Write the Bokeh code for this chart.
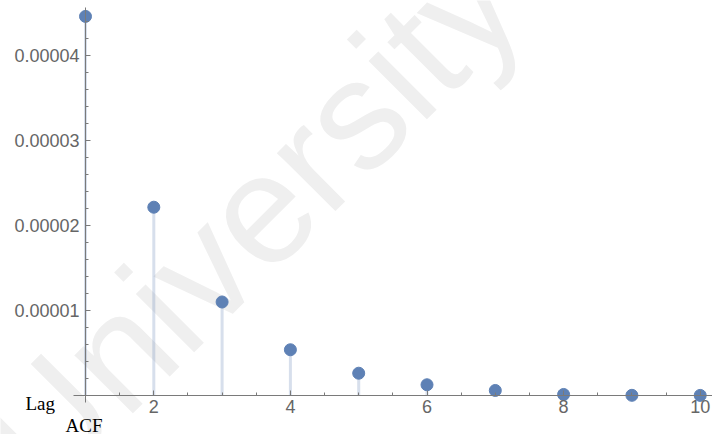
from bokeh.plotting import figure
from bokeh.models import Range1d, FixedTicker, PrintfTickFormatter, Label, ColumnDataSource
from bokeh.core.properties import value
from bokeh.embed import file_html
from bokeh.resources import INLINE

# ---- data ----
lags = [1, 2, 3, 4, 5, 6, 7, 8, 9, 10]
acf = [4.46e-5, 2.215e-5, 1.10e-5, 0.538e-5, 0.262e-5, 0.126e-5, 0.059e-5, 0.012e-5, 0.002e-5, 0.001e-5]

x_major_ticks = [2, 4, 6, 8, 10]
x_minor_ticks = [1, 1.5, 2.5, 3, 3.5, 4.5, 5, 5.5, 6.5, 7, 7.5, 8.5, 9, 9.5, 10.5]
y_major_ticks = [1e-5, 2e-5, 3e-5, 4e-5]
y_minor_ticks = [0.2e-5, 0.4e-5, 0.6e-5, 0.8e-5, 1.2e-5, 1.4e-5, 1.6e-5, 1.8e-5,
                 2.2e-5, 2.4e-5, 2.6e-5, 2.8e-5, 3.2e-5, 3.4e-5, 3.6e-5, 3.8e-5,
                 4.2e-5, 4.4e-5]

x_axis_label = "Lag"
y_axis_label = "ACF"
watermark = "University"

BLUE = "#5e81b5"
AXIS = "#7a7a7a"
TICKLBL = "#666666"

src = ColumnDataSource(dict(lag=lags, acf=acf))

p = figure(width=712, height=434, output_backend="svg", toolbar_location=None,
           x_range=Range1d(-0.2445, 10.18), y_range=Range1d(-0.459e-5, 4.647e-5),
           min_border=0, min_border_left=0, min_border_right=0,
           min_border_top=0, min_border_bottom=0)
p.outline_line_color = None
p.grid.visible = False
p.background_fill_color = "white"
p.border_fill_color = "white"

# watermark
p.text(x=[-0.142], y=[-0.788e-5], text=[watermark], angle=0.785398,
       text_font=value("Liberation Sans"), text_font_size="156px",
       text_color="#efefef", text_align="left", text_baseline="alphabetic")

# stems and points
p.segment(x0="lag", y0=0, x1="lag", y1="acf", source=src,
          line_color=BLUE, line_alpha=0.25, line_width=3)
p.scatter(x="lag", y="acf", source=src, size=12,
          fill_color=BLUE, line_color=BLUE)

# axes crossing inside the frame
for ax in (p.xaxis[0], p.yaxis[0]):
    ax.axis_line_color = AXIS
    ax.major_tick_line_color = AXIS
    ax.minor_tick_line_color = AXIS
    ax.major_tick_in = 5
    ax.major_tick_out = 0
    ax.minor_tick_in = 3
    ax.minor_tick_out = 0
    ax.major_label_text_font = "Liberation Sans"
    ax.major_label_text_font_size = "18px"
    ax.major_label_text_color = TICKLBL
    ax.major_label_text_font_style = "normal"

p.xaxis.fixed_location = 0
p.yaxis.fixed_location = 1
p.xaxis.ticker = FixedTicker(ticks=x_major_ticks, minor_ticks=x_minor_ticks)
p.yaxis.ticker = FixedTicker(ticks=y_major_ticks, minor_ticks=y_minor_ticks)
p.yaxis.formatter = PrintfTickFormatter(format="%.5f")
p.xaxis.bounds = (0.82, 10.18)
p.yaxis.bounds = (-0.08e-5, 4.561e-5)
p.xaxis.major_label_standoff = 5
p.yaxis.major_label_standoff = 6

p.add_layout(Label(x=0.1215, y=-0.094e-5, text=x_axis_label,
                   text_font="Liberation Serif", text_font_size="19px",
                   text_color="black", text_baseline="alphabetic"))
p.add_layout(Label(x=0.707, y=-0.355e-5, text=y_axis_label,
                   text_font="Liberation Serif", text_font_size="19px",
                   text_color="black", text_baseline="alphabetic"))

open("out.html", "w").write(file_html(p, INLINE))
